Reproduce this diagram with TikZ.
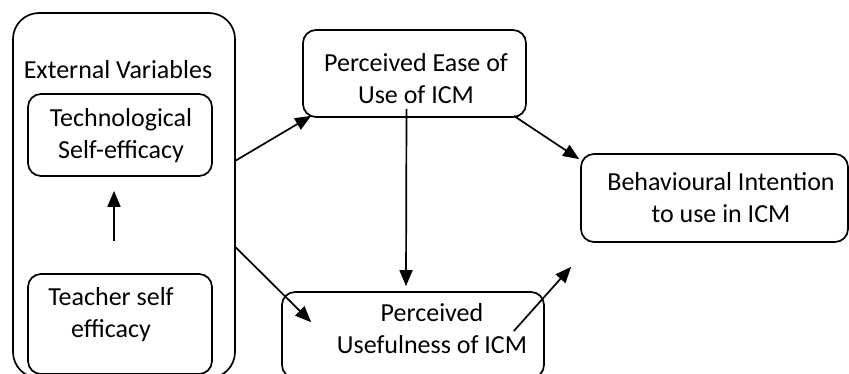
\documentclass[tikz,border=0pt]{standalone}
\usepackage{fontspec}
\setmainfont{Carlito}
\usetikzlibrary{arrows.meta}

\tikzset{
  box/.style={draw, line width=1.7pt, rounded corners=13pt, inner sep=0pt},
  lbl/.style={align=center, inner sep=0pt, font=\fontsize{26}{32}\selectfont},
  link/.style={line width=1.7pt, -{Triangle[length=16pt,width=13pt]}}
}

\begin{document}
\begin{tikzpicture}[x=1pt, y=-1pt]
\useasboundingbox (0,0) rectangle (849,374);

% external variables
\node[box, rounded corners=26pt, minimum width=222pt, minimum height=365pt] (ext) at (124,195.5) {};
\node[lbl] (extlbl) at (118,70) {External Variables};
\node[box, minimum width=184pt, minimum height=82pt] (tech) at (120,135) {};
\node[lbl] (techlbl) at (121,136) {Technological\\Self-efficacy};
\node[box, minimum width=184pt, minimum height=100pt] (teacher) at (120,324) {};
\node[lbl] (teacherlbl) at (111,315) {Teacher self\\efficacy};

% TAM constructs
\node[box, minimum width=223pt, minimum height=87pt] (peou) at (414.5,73.5) {};
\node[lbl] (peoulbl) at (416,79) {Perceived Ease of\\Use of ICM};
\node[box, minimum width=262pt, minimum height=86pt] (pu) at (413,335) {};
\node[lbl] (pulbl) at (432,329) {Perceived\\Usefulness of ICM};
\node[box, minimum width=267pt, minimum height=88pt] (bi) at (714.5,198) {};
\node[lbl] (bilbl) at (721,198) {Behavioural Intention\\to use in ICM};

\draw[link] ([xshift=-6pt,yshift=32pt]teacher.north) -- ([xshift=-6pt,yshift=-14pt]tech.south);
\draw[link] ([yshift=35pt]ext.east) -- ([xshift=9pt,yshift=2pt]peou.south west);
\draw[link] ([yshift=-52pt]ext.east) -- ([xshift=30pt,yshift=-31pt]pu.north west);
\draw[link] ([xshift=-8pt,yshift=9pt]peou.south) -- ([xshift=-7pt,yshift=5pt]pu.north);
\draw[link] ([xshift=-13pt,yshift=2pt]peou.south east) -- ([xshift=-1pt,yshift=-6pt]bi.north west);
\draw[link] ([xshift=-31pt,yshift=4pt]pu.east) -- ([xshift=-9pt,yshift=-24pt]bi.south west);
\end{tikzpicture}
\end{document}
